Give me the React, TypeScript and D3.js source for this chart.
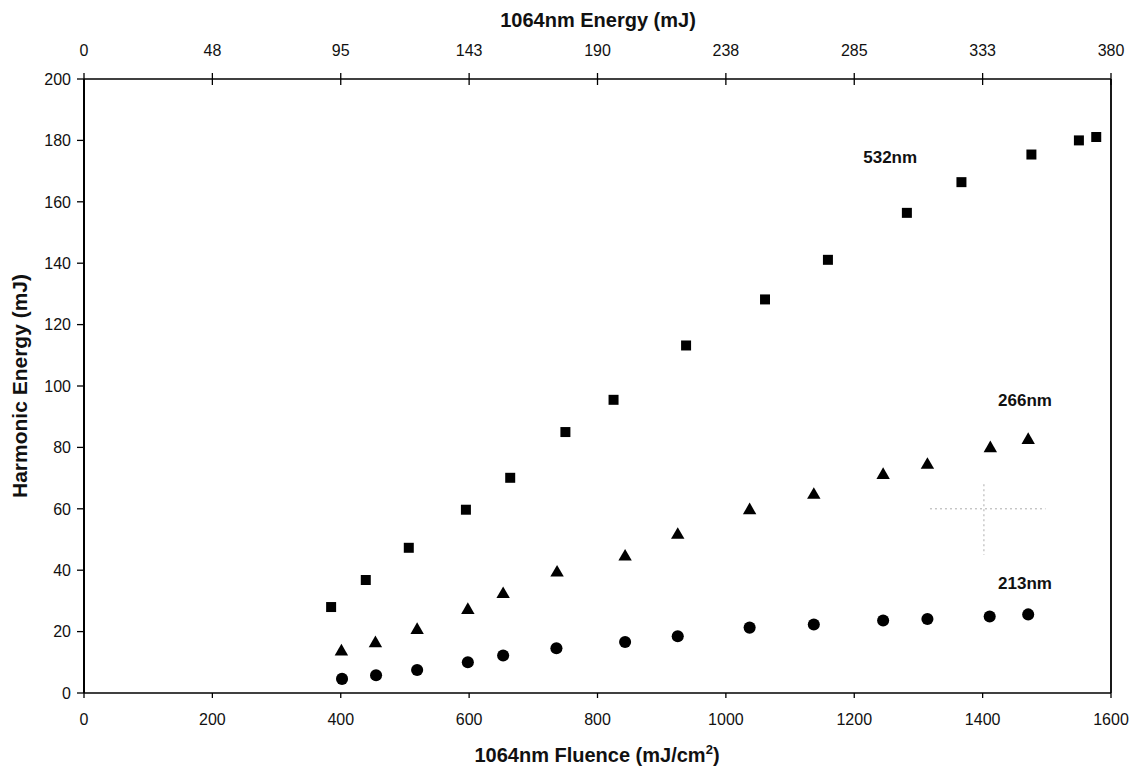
import React from 'react';
import { scaleLinear, symbol, symbolSquare, symbolTriangle, symbolCircle } from 'd3';

// tick values
const fluenceTicks = [0, 200, 400, 600, 800, 1000, 1200, 1400, 1600];
const energyTopTicks = [0, 47.5, 95, 142.5, 190, 237.5, 285, 332.5, 380];
const energyTopLabels = ['0', '48', '95', '143', '190', '238', '285', '333', '380'];
const harmonicTicks = [0, 20, 40, 60, 80, 100, 120, 140, 160, 180, 200];

// 532nm (squares)
const fluence532 = [385, 439, 506, 595, 664, 750, 825, 938, 1061, 1159, 1282, 1367, 1476, 1550, 1577];
const energy532 = [28, 36.8, 47.3, 59.7, 70.1, 85, 95.5, 113.2, 128.2, 141.1, 156.4, 166.4, 175.4, 180, 181.1];

// 266nm (triangles)
const fluence266 = [401, 454, 519, 598, 653, 737, 843, 925, 1037, 1137, 1245, 1314, 1412, 1471];
const energy266 = [13.5, 16.2, 20.5, 27, 32.2, 39.2, 44.4, 51.5, 59.5, 64.5, 71, 74.3, 79.7, 82.4];

// 213nm (circles)
const fluence213 = [402, 455, 519, 598, 653, 736, 843, 925, 1037, 1137, 1245, 1314, 1411, 1471];
const energy213 = [4.6, 5.8, 7.5, 10, 12.2, 14.6, 16.6, 18.5, 21.3, 22.3, 23.6, 24.1, 24.9, 25.6];

const font = '"Liberation Sans", Arial, sans-serif';

const App = () => {
  const width = 1139;
  const height = 773;

  const x = scaleLinear().domain([0, 1600]).range([84, 1111]);
  const xTop = scaleLinear().domain([0, 380]).range([84, 1111]);
  const y = scaleLinear().domain([0, 200]).range([693, 79]);

  const square = symbol().type(symbolSquare).size(100)();
  const triangle = symbol().type(symbolTriangle).size(78)();
  const circle = symbol().type(symbolCircle).size(115)();

  const [x0, x1] = x.range();
  const [y0, y1] = y.range();

  return (
    <svg width={width} height={height} style={{ position: 'absolute', left: 0, top: 0, background: '#fff' }}>
      <rect width={width} height={height} fill="#fff" />

      {/* faint scan crosshair */}
      <g stroke="#999" strokeWidth={1} strokeDasharray="2,3" opacity={0.8}>
        <line x1={x(1318)} x2={x(1498)} y1={y(60)} y2={y(60)} />
        <line x1={x(1402)} x2={x(1402)} y1={y(68)} y2={y(45)} />
      </g>

      {/* frame */}
      <g stroke="#000" fill="none">
        <line x1={x0} x2={x1} y1={y0} y2={y0} strokeWidth={1.6} />
        <line x1={x0} x2={x1} y1={y1} y2={y1} strokeWidth={1.6} />
        <line x1={x0} x2={x0} y1={y0} y2={y1} strokeWidth={2} />
        <line x1={x1} x2={x1} y1={y0} y2={y1} strokeWidth={1.8} />
      </g>

      {/* bottom axis */}
      <g fontFamily={font} fontSize={16} textAnchor="middle" fill="#111">
        {fluenceTicks.map((t) => (
          <g key={t} transform={`translate(${x(t)},0)`}>
            <line y1={y0} y2={y0 + 5} stroke="#000" strokeWidth={1.3} />
            <text y={725}>{t}</text>
          </g>
        ))}
      </g>

      {/* top axis */}
      <g fontFamily={font} fontSize={16} textAnchor="middle" fill="#111">
        {energyTopTicks.map((t, i) => (
          <g key={t} transform={`translate(${xTop(t)},0)`}>
            <line y1={y1 - 6} y2={y1 + 6} stroke="#000" strokeWidth={1.3} />
            <text y={56}>{energyTopLabels[i]}</text>
          </g>
        ))}
      </g>

      {/* left axis */}
      <g fontFamily={font} fontSize={16} textAnchor="end" fill="#111">
        {harmonicTicks.map((t) => (
          <g key={t} transform={`translate(0,${y(t)})`}>
            <line x1={x0 - 7} x2={x0} stroke="#000" strokeWidth={1.3} />
            <text x={71} dy="0.36em">{t}</text>
          </g>
        ))}
      </g>

      {/* axis titles */}
      <text x={597} y={762} fontFamily={font} fontSize={20} fontWeight="bold" textAnchor="middle" fill="#111">
        1064nm Fluence (mJ/cm<tspan dy={-8} fontSize={13}>2</tspan><tspan dy={8}>)</tspan>
      </text>
      <text x={598} y={27} fontFamily={font} fontSize={20} fontWeight="bold" textAnchor="middle" fill="#111">
        1064nm Energy (mJ)
      </text>
      <text
        transform={`translate(27,${(y0 + y1) / 2}) rotate(-90)`}
        fontFamily={font}
        fontSize={21}
        fontWeight="bold"
        textAnchor="middle"
        fill="#111"
      >
        Harmonic Energy (mJ)
      </text>

      {/* markers */}
      <g fill="#000">
        {fluence532.map((f, i) => (
          <path key={`s${i}`} d={square} transform={`translate(${x(f)},${y(energy532[i])})`} />
        ))}
        {fluence266.map((f, i) => (
          <path key={`t${i}`} d={triangle} transform={`translate(${x(f)},${y(energy266[i])})`} />
        ))}
        {fluence213.map((f, i) => (
          <path key={`c${i}`} d={circle} transform={`translate(${x(f)},${y(energy213[i])})`} />
        ))}
      </g>

      {/* series labels */}
      <g fontFamily={font} fontSize={17} fontWeight="bold" fill="#111">
        <text x={x(1214)} y={y(172.6)}>532nm</text>
        <text x={x(1424)} y={y(93.4)}>266nm</text>
        <text x={x(1424)} y={y(34)}>213nm</text>
      </g>
    </svg>
  );
};

export default App;
